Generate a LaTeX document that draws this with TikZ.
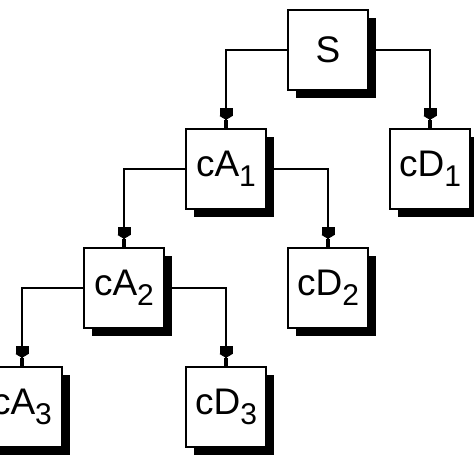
\documentclass[tikz,border=0pt]{standalone}
\usepackage{fontspec}
\setmainfont{Liberation Sans}
\usetikzlibrary{arrows.meta,positioning,shadows}
\tikzstyle{block}=[draw, line width=2.2pt, minimum size=80pt, inner sep=0pt, fill=white,
  font=\fontsize{37}{40}\selectfont,
  drop shadow={shadow xshift=8pt, shadow yshift=-8pt, fill=black, opacity=1}]
\tikzstyle{link}=[line width=2.4pt,
  -{Rectangle[length=8pt,width=13pt,sep=0pt]Triangle[length=4pt,width=13pt,sep=0pt]Rectangle[length=8pt,width=4pt]}]
\newcommand{\idx}[1]{\raisebox{-10pt}{\fontsize{30}{32}\selectfont #1}}

\begin{document}
\begin{tikzpicture}[x=1pt, y=-1pt, node distance=119pt and 102pt, on grid]
    \useasboundingbox (0,0) rectangle (474,474);
    \node (s) [block] at (328,50) {S};
    %
    \node (ca1) [block, below left=of s] {cA\idx{1}};
    \node (cd1) [block, below right=of s] {cD\idx{1}};
    \node (ca2) [block, below left=of ca1] {cA\idx{2}};
    \node (cd2) [block, below right=of ca1] {cD\idx{2}};
    \node (ca3) [block, below left=of ca2] {cA\idx{3}};
    \node (cd3) [block, below right=of ca2] {cD\idx{3}};
    %
    \draw [link] (s.west) -| (ca1.north);
    \draw [link] (s.east) -| (cd1.north);
    \draw [link] (ca1.west) -| (ca2.north);
    \draw [link] (ca1.east) -| (cd2.north);
    \draw [link] (ca2.west) -| (ca3.north);
    \draw [link] (ca2.east) -| (cd3.north);
\end{tikzpicture}
\end{document}
